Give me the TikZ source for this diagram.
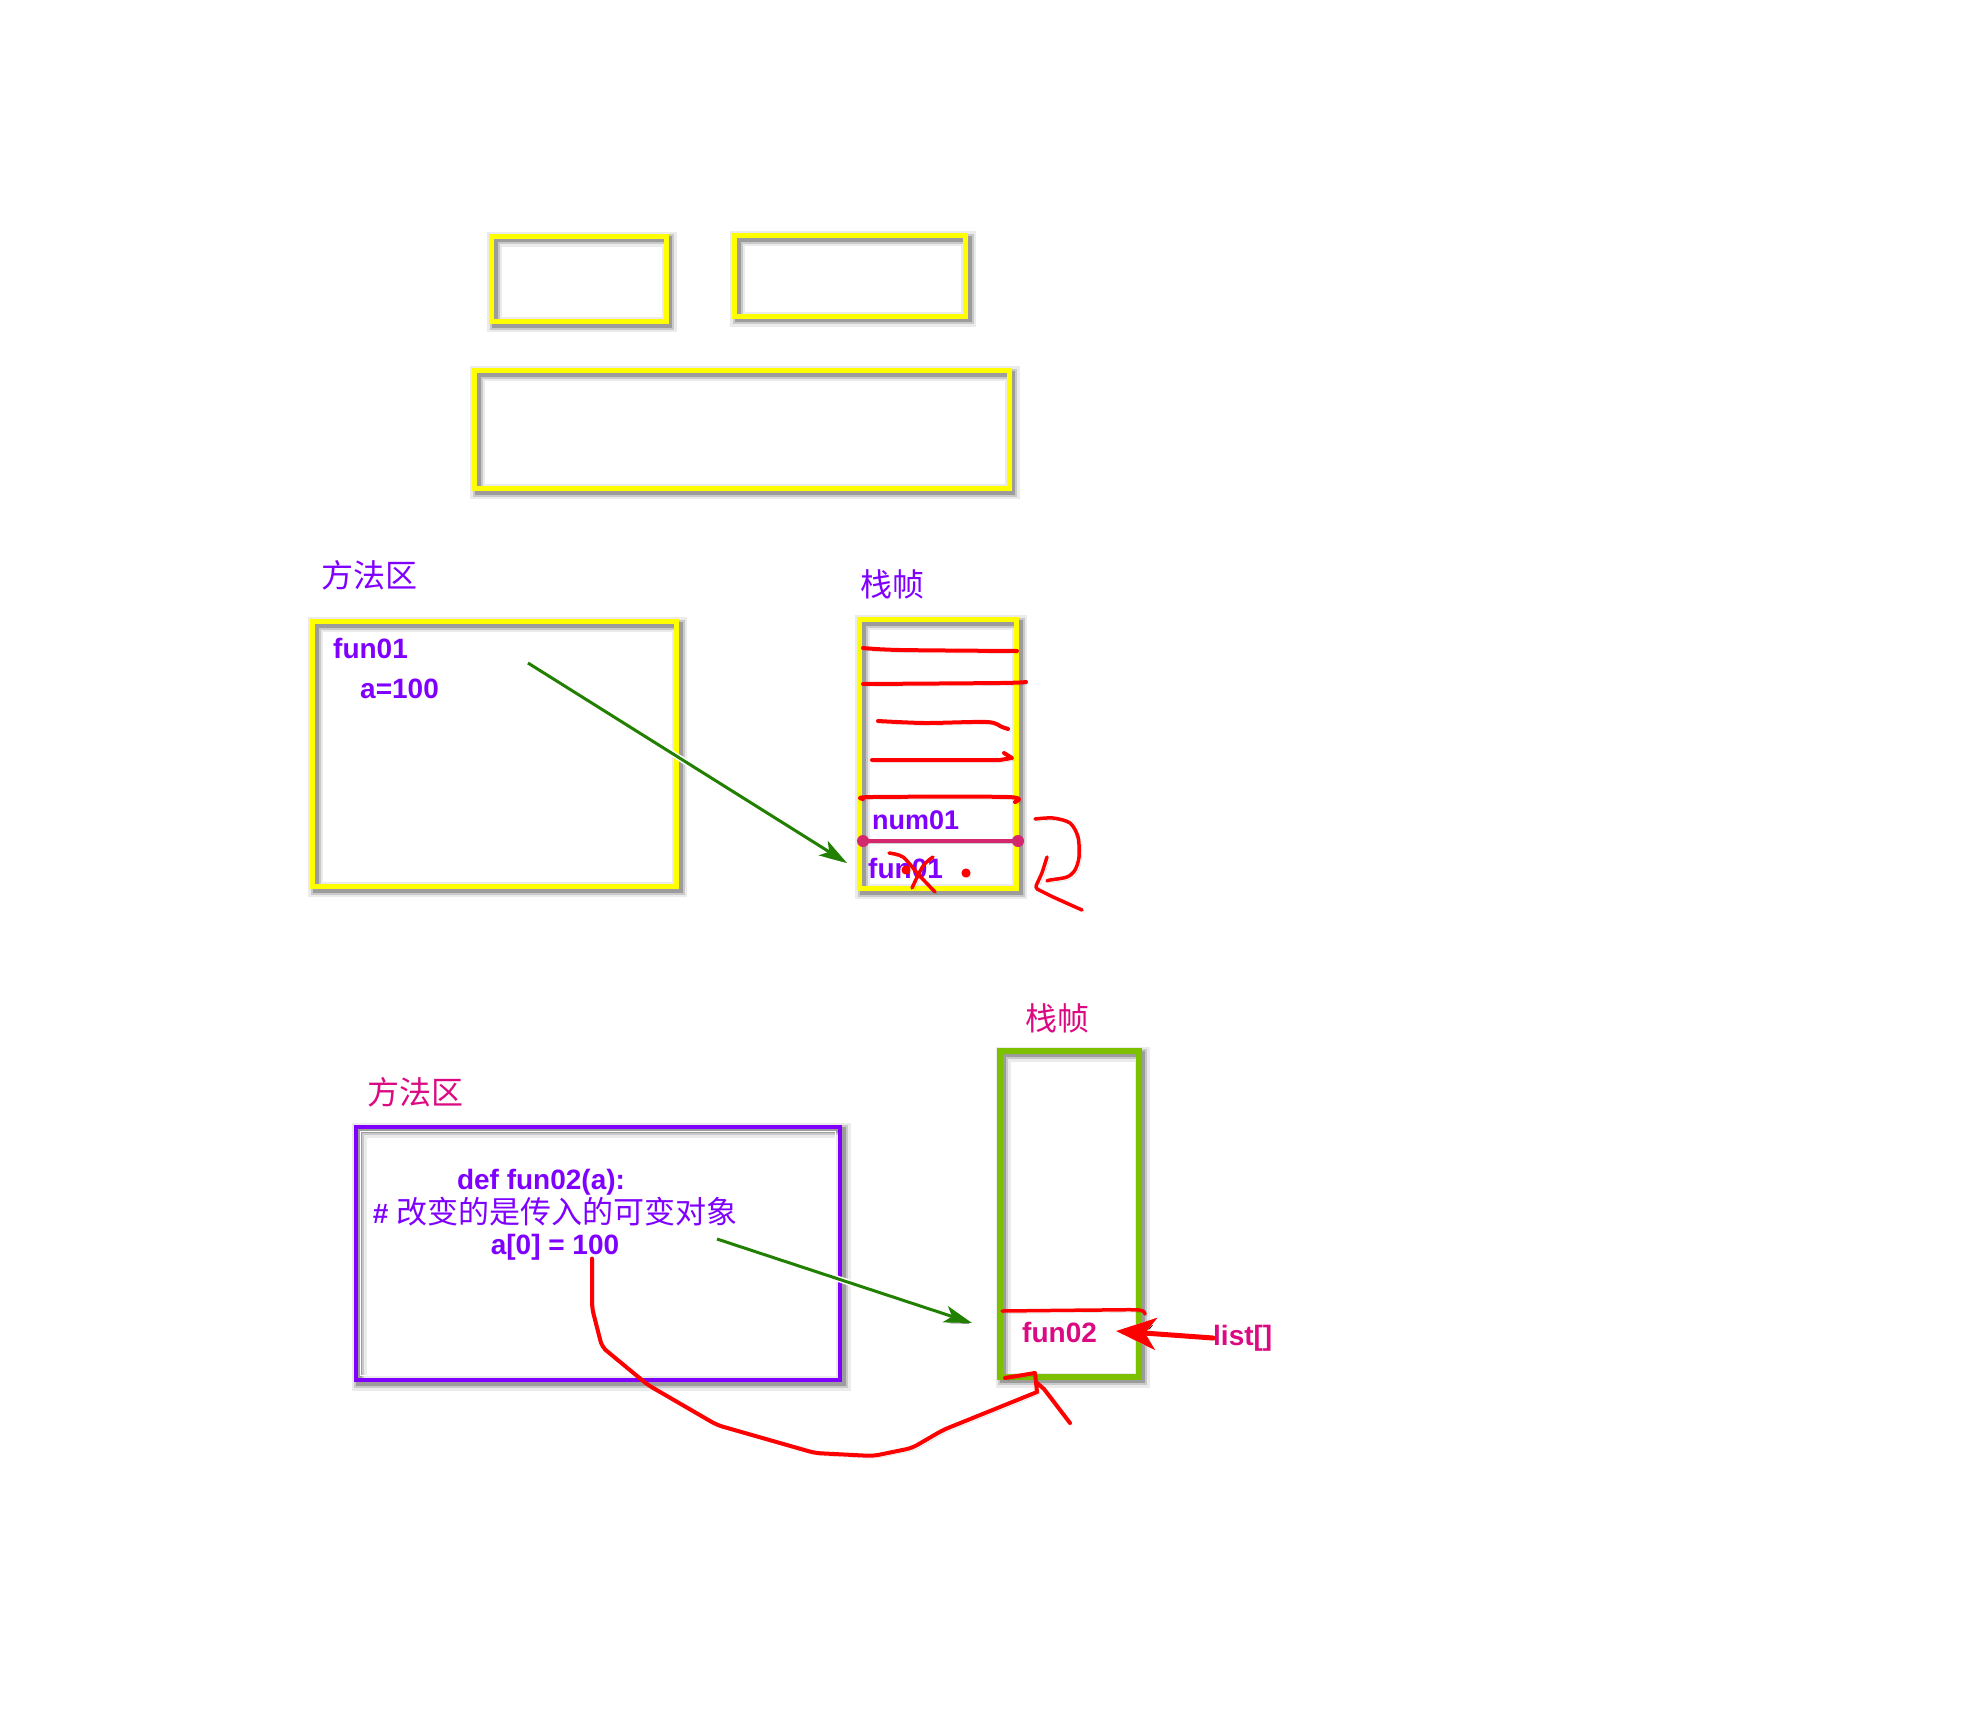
\documentclass[tikz,border=0pt]{standalone}
\usepackage{fontspec}
\setmainfont{Liberation Sans}
\newfontfamily\cjk{Noto Sans CJK SC}
\usetikzlibrary{arrows.meta,calc}

\definecolor{ylw}{RGB}{255,255,0}
\definecolor{vio}{RGB}{128,0,255}
\definecolor{mag}{RGB}{220,10,130}
\definecolor{pen}{RGB}{255,0,0}
\definecolor{grn}{RGB}{34,128,0}
\definecolor{lime}{RGB}{125,192,0}
\definecolor{rod}{RGB}{212,40,110}

\tikzset{
  shd/.style={
    preaction={draw=black, draw opacity=0.08, line width=15pt,
      transform canvas={shift={(3pt,-3pt)}}},
    preaction={draw=black, draw opacity=0.14, line width=10pt,
      transform canvas={shift={(3pt,-3pt)}}},
    preaction={draw=black, draw opacity=0.22, line width=6pt,
      transform canvas={shift={(3pt,-3pt)}}}},
  frame/.style={shape=rectangle, inner sep=0pt, outer sep=0pt,
    anchor=north west, shd},
  ybox/.style={frame, draw=ylw, line width=5pt},
  vbox/.style={frame, draw=vio, line width=4.5pt},
  gbox/.style={frame, draw=lime, line width=6pt},
  code/.style={inner sep=0pt, anchor=west,
    font=\fontsize{28}{32}\selectfont\bfseries},
  hanzi/.style={inner sep=0pt, font=\cjk\fontsize{32}{36}\selectfont},
  pen/.style={draw=pen, line width=4pt, line cap=round, line join=round,
    preaction={draw=black, draw opacity=0.16,
      transform canvas={shift={(2.5pt,-2.5pt)}}}},
  garrow/.style={draw=grn, line width=3pt,
    -{Stealth[length=28pt,width=17pt,inset=7pt]},
    preaction={draw=black, draw opacity=0.22,
      transform canvas={shift={(2pt,-2pt)}}},
    preaction={draw=white, line width=6pt}},
}

\begin{document}
\begin{tikzpicture}[x=1pt,y=-1pt]
\fill[white] (0,0) rectangle (1962,1708);
\useasboundingbox (0,0) rectangle (1962,1708);

% empty frames at the top
\node[ybox, minimum width=174.5pt, minimum height=85.5pt] (top1) at (491.5,236) {};
\node[ybox, minimum width=231pt, minimum height=80.5pt] (top2) at (734.5,235.5) {};
\node[ybox, minimum width=534.5pt, minimum height=118pt] (top3) at (474.5,370.5) {};

% ---------- first example: method area and stack frame ----------
\node[hanzi, text=vio] (ma1) at (369,575) {方法区};
\node[ybox, minimum width=364pt, minimum height=265pt] (mbox1) at (312.5,621.5) {};
\node[code, text=vio] (fun01) at (333,648) {fun01};
\node[code, text=vio] (a100) at (360,689) {a=100};

\node[hanzi, text=vio] (sf1) at (892,584) {栈帧};
\node[ybox, minimum width=157pt, minimum height=269pt] (stack1) at (859.5,619.5) {};

% scribbled frame entries
\draw[pen] plot[smooth] coordinates {(863,648) (900,650) (1017,651)};
\draw[pen] plot[smooth] coordinates {(863,684) (1000,683) (1026,682)};
\draw[pen] plot[smooth] coordinates {(878,721) (925,723) (987,722) (1002,727) (1008,729)};
\draw[pen] (872,760) -- (1000,760) -- (1012,758) -- (1004,753);
\draw[pen] plot[smooth] coordinates {(863,799) (872,797) (1008,797) (1015,802)};

\node[code, text=vio, font=\fontsize{27}{31}\selectfont\bfseries] (num01) at (872,820) {num01};
\draw[rod, line width=4pt, preaction={draw=black, draw opacity=0.18,
  transform canvas={shift={(2.5pt,-2.5pt)}}}] (863,841) -- (1018,841);
\fill[rod] (863,841) circle (6pt) (1018,841) circle (6pt);
\node[code, text=vio] (fun01b) at (868,868) {fun01};

% crossed out entry and pop mark
\draw[pen, line width=3.5pt] plot[smooth] coordinates {(889,853) (903,857) (918,874) (935,892)};
\draw[pen, line width=3.5pt] plot[smooth] coordinates {(933,857) (923,866) (912,888)};
\fill[pen] (906,870) circle (2.5pt) (966,873) circle (2.5pt);
\draw[pen, line width=3.5pt] plot[smooth] coordinates {(1035,819) (1053,818) (1070,823)
  (1078,837) (1079,857) (1075,870) (1067,877) (1050,880) (1047,881)};
\draw[pen, line width=3.5pt, rounded corners=3pt] (1047,857) -- (1042,873) -- (1035,888)
  -- (1053,897) -- (1082,910);

\coordinate (g1s) at (528,663);
\coordinate (g1e) at (847,863);
\draw[garrow] (g1s) -- (g1e);

% ---------- second example: mutable argument ----------
\node[hanzi, text=mag] (ma2) at (415,1092) {方法区};
\node[vbox, minimum width=484pt, minimum height=253pt] (pbox) at (356,1127) {};
\draw[white, line width=1.8pt] ([shift={(4.5,4.5)}]pbox.north west)
  rectangle ([shift={(-4.5,-4.5)}]pbox.south east);

\node[inner sep=0pt, align=center, text=vio,
  font=\fontsize{28}{31.5}\selectfont\bfseries] (src) at (555,1215)
  {\lineskiplimit=-60pt\relax
   def fun02(a):\kern28pt\relax\\
   \#\ {\cjk\mdseries\fontsize{31}{31.5}\selectfont 改变的是传入的可变对象}\\
   a[0] = 100};

\node[hanzi, text=mag] (sf2) at (1057,1018) {栈帧};
\node[gbox, minimum width=139pt, minimum height=326pt] (stack2) at (1000,1051) {};
\draw[pen, line width=3.5pt] plot[smooth] coordinates {(1002,1311) (1100,1310) (1139,1310) (1145,1314)};
\node[code, text=mag] (fun02) at (1022,1332) {fun02};
\node[code, text=mag] (list) at (1213,1338) {list[]};

\draw[pen, line width=5pt, preaction={draw=white, line width=8pt},
  -{Stealth[length=40pt,width=32pt,inset=11pt]}]
  (list.west) -- ($(fun02.east)+(19,-1)$);

\coordinate (g2s) at (717,1239);
\coordinate (g2e) at (972,1323);
\draw[garrow] (g2s) -- (g2e);

% hand-drawn return path from the assignment to the frame
\draw[pen, rounded corners=6pt] ($(src.south)+(37,-2)$) -- (592,1308) -- (602,1347)
  -- (648,1385) -- (717,1425) -- (815,1453) -- (873,1456) -- (912,1448)
  -- (943,1430) -- (1037,1392);
\draw[pen] (1037,1392) -- (1035,1373) -- (1005,1378);
\draw[pen] (1036,1382) -- (1044,1389) -- (1070,1423);
\end{tikzpicture}
\end{document}
